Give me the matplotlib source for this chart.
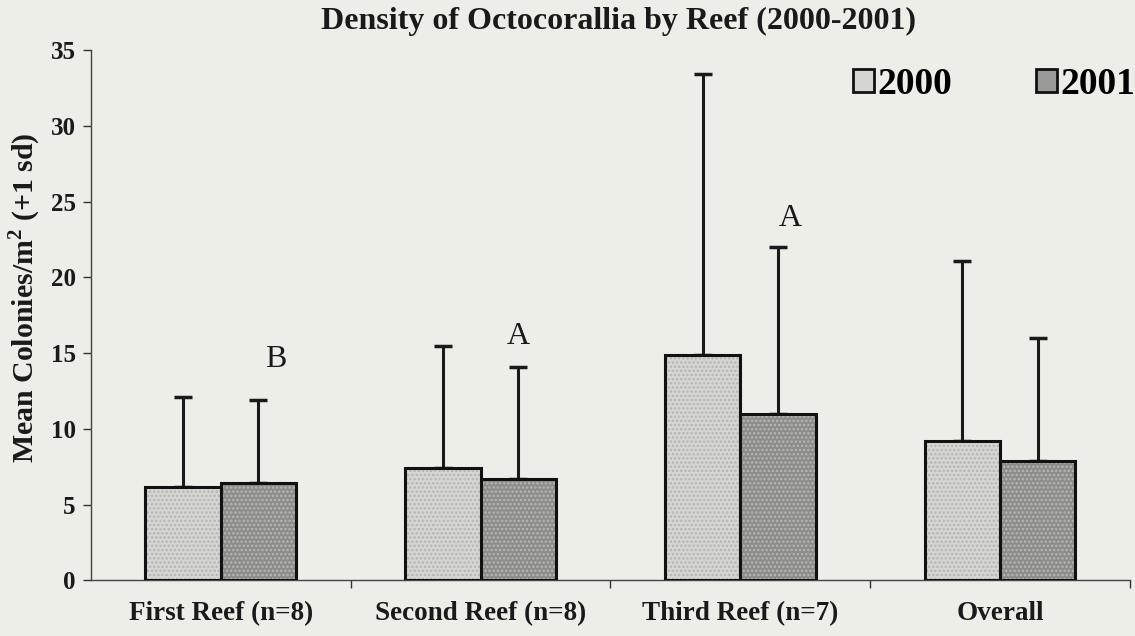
import matplotlib
matplotlib.use("Agg")
import matplotlib.pyplot as plt
from matplotlib.patches import Patch
import numpy as np

plt.rcParams['font.family'] = ['Liberation Serif', 'DejaVu Serif']
plt.rcParams['mathtext.fontset'] = 'custom'
plt.rcParams['mathtext.rm'] = 'Liberation Serif'
plt.rcParams['mathtext.bf'] = 'Liberation Serif:bold'
plt.rcParams['hatch.linewidth'] = 1.2

# Mean colonies per m^2 and +1 sd, by reef and year
categories = ["First Reef (n=8)", "Second Reef (n=8)", "Third Reef (n=7)", "Overall"]
mean_2000 = [6.2, 7.4, 14.9, 9.2]
sd_2000 = [5.9, 8.1, 18.5, 11.9]
mean_2001 = [6.4, 6.7, 11.0, 7.9]
sd_2001 = [5.5, 7.4, 11.0, 8.1]
group_letters = ["B", "A", "A", ""]
letter_y = [14.6, 16.1, 23.9, 0]
letter_dx = [0.065, 0.0, 0.046, 0.0]

bg = '#eeeee8'
ink = '#1a1a1a'
fig = plt.figure(figsize=(11.35, 6.36), dpi=100, facecolor=bg)
ax = fig.add_axes([0.08, 0.0873, 0.9156, 0.834])
ax.set_facecolor(bg)

x = np.arange(len(categories))
w = 0.29

styles = {
    '2000': dict(face='#d6d6d2', hatch_col='#b4b4b0'),
    '2001': dict(face='#8c8c8a', hatch_col='#b8b8b4'),
}

for xs, means, sds, key in [(x - w / 2, mean_2000, sd_2000, '2000'),
                            (x + w / 2, mean_2001, sd_2001, '2001')]:
    st = styles[key]
    # stippled fill
    ax.bar(xs, means, w, color=st['face'], edgecolor=st['hatch_col'],
           hatch='....', linewidth=0, zorder=2)
    # outline
    ax.bar(xs, means, w, fill=False, edgecolor='#111111', linewidth=2.2, zorder=3)
    # upper error bar only
    ax.errorbar(xs, means, yerr=[np.zeros(len(sds)), sds], fmt='none',
                ecolor=ink, elinewidth=2.2, capsize=6.5, capthick=2.5, zorder=1)

# significance group letters above the 2001 bars
for xi, lt, ly, dx in zip(x, group_letters, letter_y, letter_dx):
    if lt:
        ax.text(xi + w / 2 + dx, ly, lt, ha='center', va='center',
                fontsize=23, color=ink)

ax.set_xlim(-0.5, 3.5)
ax.set_ylim(0, 35)
ax.set_yticks(np.arange(0, 36, 5))
ax.set_xticks(x)
ax.set_xticklabels(categories, fontsize=19.5, fontweight='bold', color=ink)
ax.set_xticks([0.5, 1.5, 2.5, 3.5], minor=True)
ax.tick_params(axis='x', which='major', length=0, pad=15)
ax.tick_params(axis='x', which='minor', length=6, width=1, direction='out', color='#333333')
ax.tick_params(axis='y', length=6, width=1, direction='out', color='#333333',
               labelsize=18, pad=5)
for lab in ax.get_yticklabels():
    lab.set_fontweight('bold')
    lab.set_color(ink)

for s in ['top', 'right']:
    ax.spines[s].set_visible(False)
for s in ['left', 'bottom']:
    ax.spines[s].set_linewidth(1.0)
    ax.spines[s].set_color('#444444')

ax.set_ylabel('Mean Colonies/m$^\\mathbf{2}$ (+1 sd)', fontsize=21.5,
              fontweight='bold', color=ink)
ax.yaxis.set_label_coords(-0.046, 0.533)

fig.text(0.545, 0.967, 'Density of Octocorallia by Reef (2000-2001)', ha='center',
         va='center', fontsize=23, fontweight='bold', color=ink)

handles = [Patch(facecolor=styles['2000']['face'], edgecolor='#111111', linewidth=2, label='2000'),
           Patch(facecolor='#9a9a98', edgecolor='#111111', linewidth=2, label='2001')]
fig.legend(handles=handles, loc='upper left', bbox_to_anchor=(0.7515, 0.895),
           ncol=2, frameon=False, handlelength=0.55, handleheight=0.55,
           handletextpad=0.1, columnspacing=2.25, borderpad=0, borderaxespad=0,
           prop=dict(size=27, weight='bold'))

fig.savefig('out.png', dpi=100, facecolor=bg)
